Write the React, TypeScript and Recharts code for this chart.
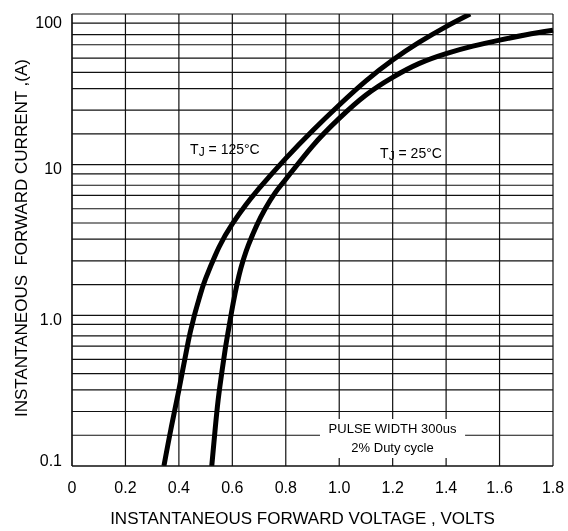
import React from "react";
import { LineChart, Line, XAxis, YAxis, CartesianGrid, ReferenceArea, ReferenceDot, Label } from "recharts";

const FONT = "'Liberation Sans', Arial, sans-serif";

// x axis: instantaneous forward voltage (V)
const voltTicks = [0, 0.2, 0.4, 0.6, 0.8, 1.0, 1.2, 1.4, 1.6, 1.8];
const voltLabels = ["0", "0.2", "0.4", "0.6", "0.8", "1.0", "1.2", "1.4", "1..6", "1.8"];

// y axis: forward current (A), log grid
const decades = [0.1, 1, 10];
const minorSteps = [1.6, 2.3, 3.2, 4.1, 5.1, 6.25, 7.3, 8.7];
const majorLabels: Record<string, string> = { "0.1": "0.1", "1": "1.0", "10": "10", "100": "100" };

// TJ = 125°C curve
const tj125Volts = [0.344, 0.37, 0.4, 0.435, 0.45, 0.46, 0.48, 0.5, 0.55, 0.6, 0.65, 0.7, 0.8, 0.9, 1.0, 1.1, 1.2, 1.3, 1.4, 1.49];
const tj125Amps = [0.1, 0.175, 0.32, 0.67, 0.875, 1.03, 1.37, 1.75, 2.83, 4.05, 5.4, 6.95, 11.0, 16.8, 24.9, 36, 49.5, 65, 82.5, 100];

// TJ = 25°C curve
const tj25Volts = [0.523, 0.535, 0.547, 0.56, 0.573, 0.585, 0.597, 0.61, 0.625, 0.64, 0.66, 0.69, 0.722, 0.76, 0.8, 0.9, 1.0, 1.1, 1.2, 1.3, 1.4, 1.5, 1.6, 1.7, 1.8];
const tj25Amps = [0.1, 0.17, 0.275, 0.41, 0.59, 0.79, 1.05, 1.39, 1.84, 2.3, 2.92, 3.91, 5.06, 6.5, 8.0, 13.3, 20.3, 29, 38, 47, 54.6, 61.2, 67.1, 72.8, 78];

const yTicks = [...decades.flatMap((d) => [d, ...minorSteps.map((m) => d * m)]), 100];

const tj125 = tj125Volts.map((v, i) => ({ v, a: tj125Amps[i] }));
const tj25 = tj25Volts.map((v, i) => ({ v, a: tj25Amps[i] }));

function CurrentTick(props: any) {
  const { x, y, payload } = props;
  const label = majorLabels[String(payload.value)];
  if (!label) return null;
  const shift = payload.value === 100 ? 8 : payload.value === 0.1 ? -6 : 4;
  return (
    <text x={x} y={y + shift} textAnchor="end" dominantBaseline="central" fontSize={16} fontFamily={FONT} fill="#000">
      {label}
    </text>
  );
}

function TjLabel(temp: string) {
  return (props: any) => {
    const vb = props.viewBox || {};
    const x = vb.x ?? props.x;
    const y = vb.y ?? props.y;
    return (
      <text x={x} y={y + 5} fontSize={14} fontFamily={FONT} fill="#000">
        <tspan>T</tspan>
        <tspan fontSize={12} dy={2}>J</tspan>
        <tspan dy={-2}>{` = ${temp}°C`}</tspan>
      </text>
    );
  };
}

function PulseLabel(props: any) {
  const { x, y, width, height } = props.viewBox;
  const cx = x + width / 2;
  return (
    <text textAnchor="middle" fontSize={13} fontFamily={FONT} fill="#000">
      <tspan x={cx} y={y + height / 2 - 6}>PULSE WIDTH 300us</tspan>
      <tspan x={cx} y={y + height / 2 + 13}>2% Duty cycle</tspan>
    </text>
  );
}

export default function App() {
  return (
    <div style={{ position: "fixed", left: 0, top: 0 }}>
      <LineChart width={568} height={531} margin={{ top: 14, right: 15, left: 0, bottom: 0 }}>
        <CartesianGrid stroke="#111" strokeWidth={1.2} />
        <XAxis
          type="number"
          dataKey="v"
          domain={[0, 1.8]}
          ticks={voltTicks}
          interval={0}
          height={65}
          tickLine={false}
          tickSize={6}
          tickMargin={10}
          axisLine={{ stroke: "#111", strokeWidth: 1.2 }}
          tick={{ fontSize: 16, fontFamily: FONT, fill: "#000" }}
          tickFormatter={(value: number) => voltLabels[voltTicks.indexOf(value)]}
        >
          <Label
            content={(p: any) => {
              const vb = p.viewBox;
              return (
                <text x={vb.x + vb.width / 2 - 10} y={vb.y + 57.5} textAnchor="middle" fontSize={17} fontFamily={FONT} fill="#000">
                  INSTANTANEOUS FORWARD VOLTAGE , VOLTS
                </text>
              );
            }}
          />
        </XAxis>
        <YAxis
          type="number"
          scale="log"
          domain={[0.1, 100]}
          allowDataOverflow
          ticks={yTicks}
          interval={0}
          width={72}
          tickLine={false}
          tickSize={6}
          tickMargin={4}
          axisLine={{ stroke: "#111", strokeWidth: 1.2 }}
          tick={<CurrentTick />}
        >
          <Label
            content={(p: any) => {
              const vb = p.viewBox;
              const cx = vb.x + 21;
              const cy = vb.y + vb.height / 2 - 2;
              return (
                <text
                  x={cx}
                  y={cy}
                  transform={`rotate(-90 ${cx} ${cy})`}
                  textAnchor="middle"
                  dominantBaseline="central"
                  fontSize={17}
                  fontFamily={FONT}
                  fill="#000"
                  style={{ whiteSpace: "pre" }}
                >
                  {"INSTANTANEOUS  FORWARD CURRENT ,(A)"}
                </text>
              );
            }}
          />
        </YAxis>
        <ReferenceArea x1={0.928} x2={1.471} y1={0.113} y2={0.205} fill="#fff" fillOpacity={1} stroke="none" label={<PulseLabel />} />
        <ReferenceDot x={0.442} y={12.8} r={0} fill="none" stroke="none" label={TjLabel("125")} />
        <ReferenceDot x={1.153} y={11.9} r={0} fill="none" stroke="none" label={TjLabel("25")} />
        <Line data={tj125} dataKey="a" type="natural" stroke="#000" strokeWidth={5} dot={false} isAnimationActive={false} />
        <Line data={tj25} dataKey="a" type="natural" stroke="#000" strokeWidth={5} dot={false} isAnimationActive={false} />
      </LineChart>
    </div>
  );
}
